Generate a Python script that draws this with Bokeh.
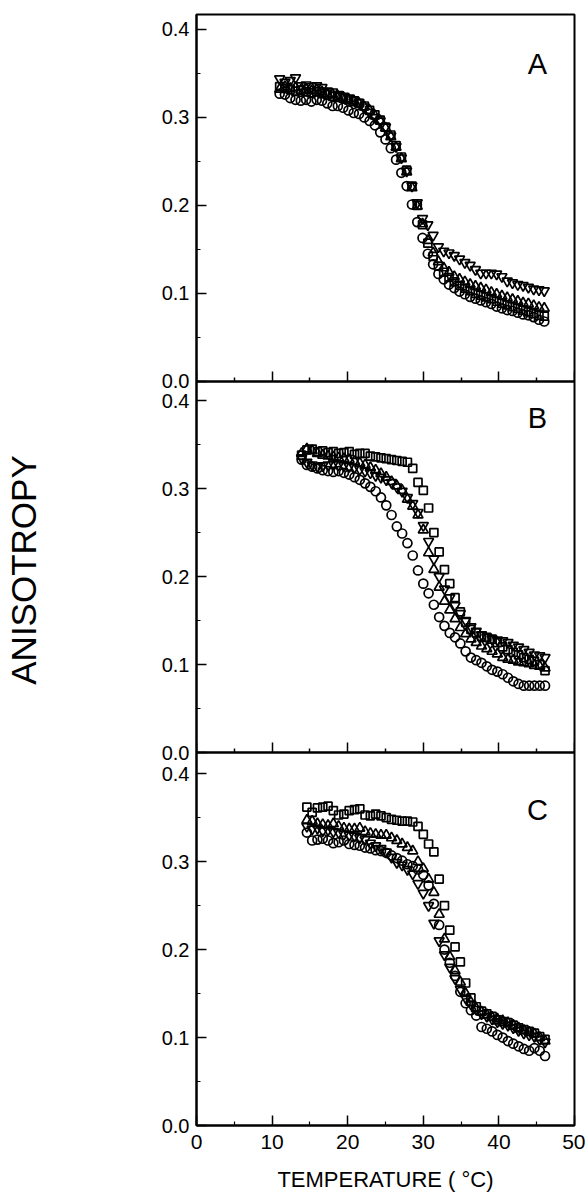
from bokeh.plotting import figure
from bokeh.models import Range1d, LinearAxis, FixedTicker, Label
from bokeh.embed import file_html
from bokeh.resources import INLINE

FONT = "Liberation Sans"

# ---------------- data ----------------
temp_a = [11.0, 11.7, 12.4, 13.1, 13.8, 14.5, 15.2, 15.9, 16.6, 17.3,
          18.0, 18.7, 19.4, 20.1, 20.8, 21.5, 22.2, 22.9, 23.6, 24.3,
          25.0, 25.7, 26.4, 27.1, 27.8, 28.5, 29.2, 29.9, 30.6, 31.3,
          32.0, 32.7, 33.4, 34.1, 34.8, 35.5, 36.2, 36.9, 37.6, 38.3,
          39.0, 39.7, 40.4, 41.1, 41.8, 42.5, 43.2, 43.9, 44.6, 45.3, 46.0]
a_circle = [0.327, 0.326, 0.322, 0.320, 0.319, 0.320, 0.318, 0.320, 0.319, 0.316,
            0.313, 0.313, 0.311, 0.308, 0.305, 0.304, 0.300, 0.296, 0.291, 0.283,
            0.275, 0.265, 0.252, 0.237, 0.222, 0.201, 0.181, 0.163, 0.145, 0.133,
            0.122, 0.116, 0.110, 0.106, 0.102, 0.099, 0.096, 0.094, 0.092, 0.090,
            0.088, 0.085, 0.083, 0.081, 0.080, 0.078, 0.076, 0.075, 0.073, 0.070, 0.068]
a_square = [0.335, 0.333, 0.332, 0.330, 0.331, 0.329, 0.328, 0.329, 0.327, 0.326,
            0.324, 0.323, 0.322, 0.320, 0.318, 0.316, 0.313, 0.308, 0.303, 0.297,
            0.289, 0.280, 0.268, 0.255, 0.240, 0.222, 0.200, 0.178, 0.157, 0.142,
            0.131, 0.124, 0.118, 0.113, 0.109, 0.106, 0.103, 0.100, 0.098, 0.096,
            0.094, 0.091, 0.089, 0.087, 0.085, 0.083, 0.081, 0.079, 0.077, 0.075, 0.074]
a_up = [0.332, 0.335, 0.333, 0.334, 0.331, 0.332, 0.330, 0.331, 0.329, 0.327,
        0.326, 0.324, 0.323, 0.321, 0.319, 0.316, 0.312, 0.308, 0.302, 0.296,
        0.288, 0.278, 0.266, 0.253, 0.238, 0.220, 0.199, 0.179, 0.160, 0.146,
        0.136, 0.129, 0.124, 0.119, 0.116, 0.113, 0.110, 0.108, 0.106, 0.104,
        0.101, 0.099, 0.097, 0.095, 0.093, 0.091, 0.089, 0.088, 0.086, 0.084, 0.083]
a_down = [0.344, 0.340, 0.342, 0.345, 0.336, 0.337, 0.335, 0.336, 0.334, 0.330,
          0.329, 0.326, 0.324, 0.322, 0.320, 0.317, 0.312, 0.306, 0.300, 0.296,
          0.289, 0.279, 0.267, 0.254, 0.239, 0.222, 0.203, 0.185, 0.178, 0.166,
          0.153, 0.148, 0.146, 0.143, 0.139, 0.135, 0.132, 0.127, 0.123, 0.123,
          0.123, 0.122, 0.119, 0.114, 0.112, 0.110, 0.109, 0.107, 0.105, 0.104, 0.103]

temp_b = [13.9, 14.6, 15.3, 16.0, 16.7, 17.4, 18.1, 18.8, 19.5, 20.2,
          20.9, 21.6, 22.3, 23.0, 23.7, 24.4, 25.1, 25.8, 26.5, 27.2,
          27.9, 28.6, 29.3, 30.0, 30.7, 31.4, 32.1, 32.8, 33.5, 34.2,
          34.9, 35.6, 36.3, 37.0, 37.7, 38.4, 39.1, 39.8, 40.5, 41.2,
          41.9, 42.6, 43.3, 44.0, 44.7, 45.4, 46.1]
b_circle = [0.333, 0.327, 0.325, 0.323, 0.321, 0.320, 0.319, 0.320, 0.318, 0.316,
            0.313, 0.310, 0.306, 0.302, 0.297, 0.290, 0.281, 0.270, 0.257, 0.249,
            0.238, 0.224, 0.207, 0.192, 0.181, 0.168, 0.154, 0.144, 0.136, 0.131,
            0.124, 0.115, 0.108, 0.105, 0.102, 0.098, 0.094, 0.092, 0.089, 0.085,
            0.081, 0.078, 0.076, 0.076, 0.076, 0.076, 0.076]
b_square = [0.338, 0.344, 0.345, 0.342, 0.343, 0.341, 0.342, 0.340, 0.341, 0.342,
            0.339, 0.340, 0.340, 0.337, 0.336, 0.335, 0.334, 0.333, 0.332, 0.331,
            0.330, 0.323, 0.307, 0.298, 0.278, 0.250, 0.228, 0.208, 0.192, 0.176,
            0.160, 0.148, 0.140, 0.136, 0.132, 0.131, 0.129, 0.125, 0.120, 0.117,
            0.114, 0.111, 0.108, 0.106, 0.104, 0.100, 0.093]
b_up = [0.340, 0.345, 0.343, 0.340, 0.338, 0.337, 0.336, 0.335, 0.334, 0.333,
        0.331, 0.329, 0.327, 0.324, 0.321, 0.317, 0.313, 0.308, 0.303, 0.298,
        0.288, 0.280, 0.270, 0.253, 0.227, 0.208, 0.188, 0.172, 0.162, 0.152,
        0.142, 0.135, 0.129, 0.125, 0.121, 0.118, 0.115, 0.112, 0.108, 0.106,
        0.105, 0.103, 0.102, 0.101, 0.099, 0.098, 0.096]
b_down = [0.335, 0.330, 0.327, 0.325, 0.326, 0.327, 0.328, 0.327, 0.326, 0.325,
          0.324, 0.322, 0.320, 0.318, 0.315, 0.313, 0.310, 0.307, 0.302, 0.297,
          0.290, 0.283, 0.273, 0.258, 0.240, 0.220, 0.200, 0.186, 0.176, 0.167,
          0.158, 0.150, 0.143, 0.138, 0.134, 0.131, 0.129, 0.128, 0.127, 0.125,
          0.122, 0.120, 0.117, 0.114, 0.111, 0.110, 0.108]

temp_c = [14.6, 15.3, 16.0, 16.7, 17.4, 18.1, 18.8, 19.5, 20.2, 20.9,
          21.6, 22.3, 23.0, 23.7, 24.4, 25.1, 25.8, 26.5, 27.2, 27.9,
          28.6, 29.3, 30.0, 30.7, 31.4, 32.1, 32.8, 33.5, 34.2, 34.9,
          35.6, 36.3, 37.0, 37.7, 38.4, 39.1, 39.8, 40.5, 41.2, 41.9,
          42.6, 43.3, 44.0, 44.7, 45.4, 46.1]
c_circle = [0.333, 0.324, 0.325, 0.326, 0.324, 0.321, 0.322, 0.324, 0.320, 0.319,
            0.318, 0.316, 0.315, 0.313, 0.312, 0.310, 0.307, 0.304, 0.301, 0.297,
            0.295, 0.291, 0.285, 0.273, 0.252, 0.228, 0.200, 0.185, 0.170, 0.152,
            0.139, 0.131, 0.125, 0.112, 0.110, 0.107, 0.103, 0.100, 0.096, 0.093,
            0.090, 0.087, 0.085, 0.088, 0.085, 0.079]
c_square = [0.362, 0.356, 0.361, 0.362, 0.363, 0.358, 0.353, 0.354, 0.358, 0.359,
            0.360, 0.353, 0.352, 0.354, 0.352, 0.350, 0.348, 0.347, 0.346, 0.346,
            0.345, 0.340, 0.331, 0.320, 0.311, 0.280, 0.250, 0.222, 0.203, 0.186,
            0.162, 0.145, 0.135, 0.130, 0.127, 0.124, 0.120, 0.118, 0.117, 0.114,
            0.111, 0.109, 0.107, 0.105, 0.101, 0.098]
c_up = [0.347, 0.346, 0.343, 0.342, 0.341, 0.343, 0.340, 0.338, 0.337, 0.337,
        0.338, 0.334, 0.332, 0.331, 0.330, 0.330, 0.327, 0.324, 0.320, 0.316,
        0.312, 0.300, 0.292, 0.280, 0.265, 0.240, 0.212, 0.192, 0.176, 0.163,
        0.150, 0.140, 0.133, 0.129, 0.126, 0.123, 0.121, 0.119, 0.117, 0.114,
        0.111, 0.108, 0.106, 0.104, 0.100, 0.096]
c_down = [0.340, 0.337, 0.338, 0.335, 0.336, 0.334, 0.333, 0.331, 0.330, 0.329,
          0.327, 0.325, 0.321, 0.318, 0.315, 0.311, 0.305, 0.299, 0.296, 0.291,
          0.286, 0.275, 0.264, 0.250, 0.230, 0.210, 0.194, 0.180, 0.167, 0.155,
          0.145, 0.138, 0.132, 0.127, 0.124, 0.121, 0.118, 0.116, 0.114, 0.111,
          0.108, 0.105, 0.103, 0.101, 0.098, 0.095]

panel_names = ["A", "B", "C"]
y_ticks = [0.0, 0.1, 0.2, 0.3, 0.4]
y_tick_labels = ["0.0", "0.1", "0.2", "0.3", "0.4"]
y_minor = [0.05, 0.15, 0.25, 0.35]
x_ticks = [0, 10, 20, 30, 40, 50]
x_minor = [5, 15, 25, 35, 45]
x_label = "TEMPERATURE ( \u00b0C)"
y_label = "ANISOTROPY"

panels = {
    "A": (temp_a, a_circle, a_square, a_up, a_down),
    "B": (temp_b, b_circle, b_square, b_up, b_down),
    "C": (temp_c, c_circle, c_square, c_up, c_down),
}

# ------------- stacked panels (y units) -------------
offsets = {"A": 0.846, "B": 0.424, "C": 0.0}
total = 1.263

p = figure(frame_width=378, frame_height=1111,
           min_border_left=196, min_border_right=11,
           min_border_top=14, min_border_bottom=75,
           x_range=Range1d(0, 50), y_range=Range1d(0, total),
           toolbar_location=None, output_backend="svg",
           background_fill_color="white", border_fill_color="white")
p.grid.visible = False
p.outline_line_color = "black"
p.outline_line_width = 2

for name in panel_names:
    off = offsets[name]
    p.extra_y_ranges[name] = Range1d(-off, total - off)

# main x axis
xa = p.xaxis[0]
xa.ticker = FixedTicker(ticks=x_ticks, minor_ticks=x_minor)
xa.major_tick_in = 10
xa.major_tick_out = 0
xa.minor_tick_in = 4
xa.minor_tick_out = 0
xa.axis_line_width = 2
xa.major_tick_line_width = 1.5
xa.minor_tick_line_width = 1.2
xa.major_label_text_font = FONT
xa.major_label_text_font_size = "21px"
xa.major_label_text_color = "black"
xa.major_label_standoff = 9
xa.axis_label = x_label
xa.axis_label_text_font = FONT
xa.axis_label_text_font_size = "22px"
xa.axis_label_text_font_style = "normal"
xa.axis_label_text_color = "black"
xa.axis_label_standoff = 15

# separators between panels, with inner ticks (no labels)
for name in ["A", "B"]:
    for ticks, length in ((x_ticks, 10), (x_minor, 4)):
        sep = LinearAxis(fixed_location=offsets[name],
                         ticker=FixedTicker(ticks=[], minor_ticks=ticks),
                         major_tick_in=0, major_tick_out=0,
                         minor_tick_in=length, minor_tick_out=0,
                         axis_line_width=2, minor_tick_line_width=1.5)
        p.add_layout(sep, "below")

# y axis (stacked ticks)
major = []
minor = []
overrides = {}
for name in panel_names:
    off = offsets[name]
    for v, lab in zip(y_ticks, y_tick_labels):
        t = round(off + v, 4)
        major.append(t)
        overrides[t] = lab
    for v in y_minor:
        minor.append(round(off + v, 4))

ya = p.yaxis[0]
ya.ticker = FixedTicker(ticks=major, minor_ticks=minor)
ya.major_label_overrides = overrides
ya.major_tick_in = 10
ya.major_tick_out = 0
ya.minor_tick_in = 4
ya.minor_tick_out = 0
ya.axis_line_width = 2
ya.major_tick_line_width = 1.5
ya.minor_tick_line_width = 1.2
ya.major_label_text_font = FONT
ya.major_label_text_font_size = "20px"
ya.major_label_text_color = "black"
ya.major_label_standoff = 7
ya.axis_label = y_label
ya.axis_label_text_font = FONT
ya.axis_label_text_font_size = "35px"
ya.axis_label_text_font_style = "normal"
ya.axis_label_text_color = "black"
ya.axis_label_standoff = 116

# data
marker_styles = [("circle", 9), ("square", 8), ("triangle", 10), ("inverted_triangle", 10)]
for name in panel_names:
    temps = panels[name][0]
    for (marker, size), vals in zip(marker_styles, panels[name][1:]):
        p.scatter(temps, vals, marker=marker, size=size, line_color="black",
                  line_width=1.7, fill_color=None, y_range_name=name)

# panel letters
letter_pos = {"A": 0.361, "B": 0.380, "C": 0.359}
for name in panel_names:
    p.add_layout(Label(x=45.1, y=letter_pos[name], y_range_name=name, text=name,
                       text_align="center", text_baseline="middle",
                       text_font=FONT, text_font_size="29px", text_color="black"))

open("out.html", "w", encoding="utf-8").write(file_html(p, INLINE))
